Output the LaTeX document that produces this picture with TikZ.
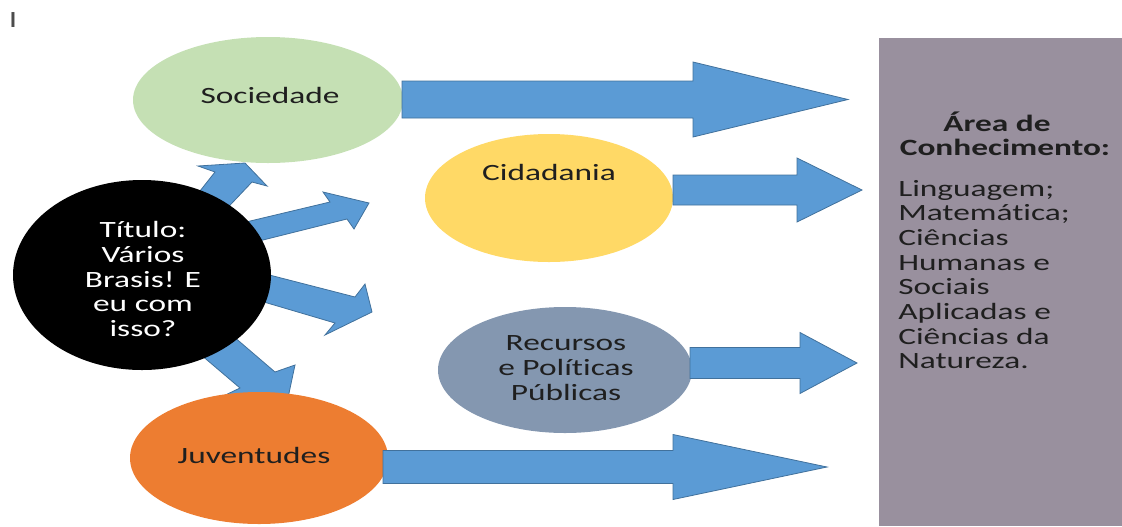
\documentclass[tikz,border=0pt]{standalone}
\usepackage{fontspec}
\setmainfont{Carlito}[FakeStretch=1.43,Ligatures={NoCommon}]
\usetikzlibrary{shapes.geometric}
\definecolor{arrowblue}{HTML}{5B9BD5}
\definecolor{arrowedge}{HTML}{41719C}
\definecolor{socgreen}{HTML}{C5E0B4}
\definecolor{cidyellow}{HTML}{FFD966}
\definecolor{recblue}{HTML}{8497B0}
\definecolor{juvorange}{HTML}{ED7D31}
\definecolor{areagray}{RGB}{153,144,158}
\newcommand\blockarr[6]{%
  \draw[blockarrow] ({#1},{#4-#5}) -- ({#2},{#4-#5}) -- ({#2},{#4-#6}) -- ({#3},{#4})
    -- ({#2},{#4+#6}) -- ({#2},{#4+#5}) -- ({#1},{#4+#5}) -- cycle;}
\begin{document}
\begin{tikzpicture}[x=0.75pt,y=-0.75pt,
  blockarrow/.style={fill=arrowblue,draw=arrowedge,line width=0.6pt,line join=miter},
  bubble/.style={ellipse,inner sep=0pt,draw=none},
  lbl/.style={font=\fontsize{17.5}{18.5}\selectfont,text=black!88,align=center,inner sep=0pt},
  boxtxt/.style={font=\fontsize{17.5}{18.5}\selectfont,text=black!88,inner sep=0pt},
]
\useasboundingbox (0,0) rectangle (1122,526);

% cursor mark
\node[boxtxt,text=black!70] (mark) at (13,20) {I};

% area box
\fill[areagray] (879,38) rectangle (1122,526);

% diagonal arrows (behind the circles)
\draw[blockarrow] (185,210) -- (215,172) -- (198,166) -- (245,163) -- (267,186) -- (252,182) -- (215,221) -- cycle;
\draw[blockarrow] (225,227) -- (330,202) -- (323,192) -- (369,203) -- (354,229) -- (347,219) -- (243,245) -- cycle;
\draw[blockarrow] (250,270) -- (355,297) -- (365,284) -- (372,312) -- (325,335) -- (335,323) -- (230,292) -- cycle;
\draw[blockarrow] (180,337) -- (240,388) -- (215,400) -- (285,412) -- (295,365) -- (275,372) -- (205,312) -- cycle;

% bubbles
\node[bubble,fill=black,minimum width=193.5pt,minimum height=142.5pt] (titulo) at (142,275) {};
\node[bubble,fill=socgreen,minimum width=202.5pt,minimum height=94.5pt] (soc) at (268,100) {};
\node[bubble,fill=cidyellow,minimum width=186pt,minimum height=96pt] (cid) at (549,198) {};
\node[bubble,fill=recblue,minimum width=190.5pt,minimum height=94.5pt] (rec) at (565,370) {};
\node[bubble,fill=juvorange,minimum width=193.5pt,minimum height=99pt] (juv) at (259,458) {};

% labels
\node[lbl,text=white] (titulotxt) at (143,279) {Título:\\Vários\\Brasis! E\\eu com\\isso?};
\node[lbl] (soctxt) at (270,95) {Sociedade};
\node[lbl] (cidtxt) at (549,172) {Cidadania};
\node[lbl] (rectxt) at (566,368) {Recursos\\e Políticas\\Públicas};
\node[lbl] (juvtxt) at (254,455) {Juventudes};

% horizontal arrows
\blockarr{402}{693}{848}{99.5}{18.5}{37.5}
\blockarr{673}{797}{862}{190}{15}{32}
\blockarr{690}{800}{857}{363}{15.5}{30.5}
\blockarr{383}{673}{827}{467}{16.5}{32.5}

% area text
\node[boxtxt,font=\fontsize{17.5}{18.5}\selectfont\bfseries] (areah1) at (997,122) {Área de};
\node[boxtxt,font=\fontsize{17.5}{18.5}\selectfont\bfseries] (areah2) at (1005,147) {Conhecimento:};
\node[boxtxt,align=left,anchor=north west,font=\fontsize{17.5}{18.5}\selectfont] (arealist) at (898,180)
  {Linguagem;\\Matemática;\\Ciências\\Humanas e\\Sociais\\Aplicadas e\\Ciências da\\Natureza.};
\end{tikzpicture}
\end{document}
